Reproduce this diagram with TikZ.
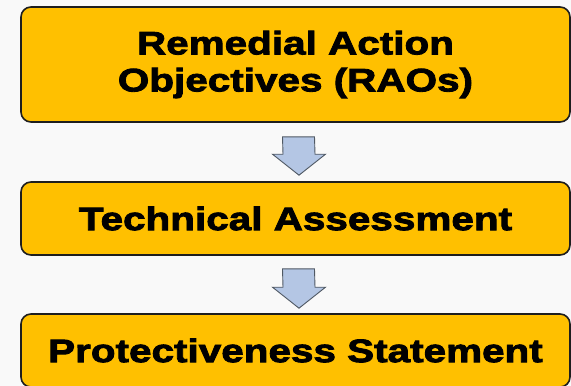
\documentclass[tikz,border=0pt]{standalone}
\usepackage{fontspec}
\usetikzlibrary{calc}
\newfontfamily\boxfont{Liberation Sans}[FakeStretch=1.245, BoldFeatures={FakeBold=2.6}]
\definecolor{pagebg}{HTML}{F9F9F9}
\definecolor{boxgold}{HTML}{FFC000}
\definecolor{boxline}{HTML}{1E1E1E}
\definecolor{arrowfill}{HTML}{B4C6E4}
\definecolor{arrowline}{HTML}{4F5863}
\tikzset{
  stagebox/.style={draw=boxline, line width=1.6pt, fill=boxgold,
    rounded corners=10pt, minimum width=549pt, inner sep=0pt, align=center,
    font=\boxfont\bfseries\fontsize{32.5}{37}\selectfont},
  blockarrow/.style={draw=arrowline, line width=0.9pt, fill=arrowfill, line join=miter}
}
% down-pointing block arrow from #1 (top of shaft) to #2 (tip)
\newcommand\dnarrow[2]{%
  \draw[blockarrow] ($(#1)+(-16,0)$) -- ($(#1)+(16,0)$) -- ($(#2)+(16,-21)$)
    -- ($(#2)+(26.5,-21)$) -- (#2) -- ($(#2)+(-26.5,-21)$) -- ($(#2)+(-16,-21)$) -- cycle;}
\begin{document}
\begin{tikzpicture}[x=1pt,y=-1pt]
  \fill[pagebg] (0,0) rectangle (571,386);
  \useasboundingbox (0,0) rectangle (571,386);

  \node[stagebox, minimum height=115pt] (rao) at (295.5,64.5)
    {Remedial Action\\Objectives (RAOs)};
  \node[stagebox, minimum height=73pt] (tech) at (295.5,218.5)
    {Technical Assessment};
  \node[stagebox, minimum height=73pt] (prot) at (295.5,350.5)
    {Protectiveness Statement};

  \coordinate (a1top) at ($(rao.south)+(3,14)$);
  \coordinate (a1tip) at ($(tech.north)+(3.5,-6)$);
  \coordinate (a2top) at ($(tech.south)+(3,13)$);
  \coordinate (a2tip) at ($(prot.north)+(3.5,-5)$);
  \dnarrow{a1top}{a1tip}
  \dnarrow{a2top}{a2tip}
\end{tikzpicture}
\end{document}
